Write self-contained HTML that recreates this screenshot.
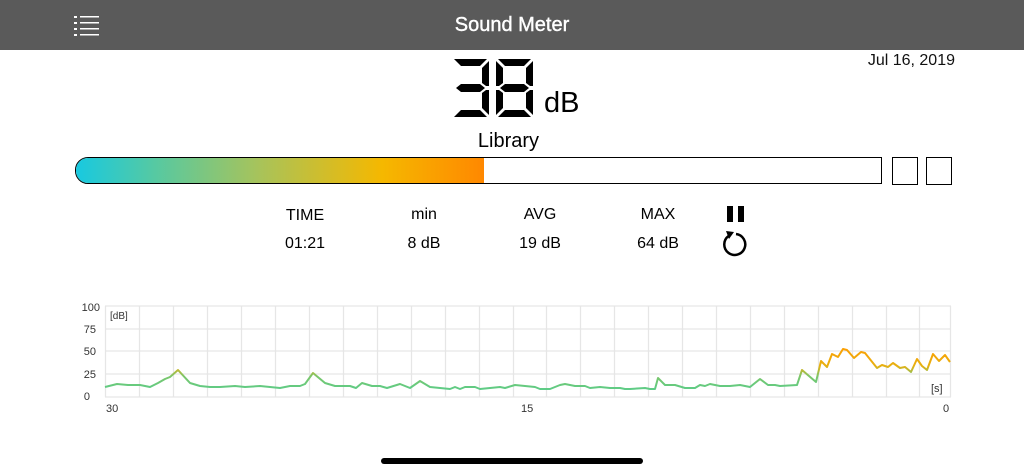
<!DOCTYPE html>
<html><head><meta charset="utf-8"><style>
body{margin:0;width:1024px;height:473px;background:#fff;font-family:"Liberation Sans",sans-serif;position:relative;overflow:hidden}
.a{position:absolute}
</style></head><body>
<div class="a" style="left:0;top:0;width:1024px;height:50px;background:#5a5a5a"></div>
<div class="a" style="left:0;top:14px;width:1024px;text-align:center;color:#fff;font-size:20px;-webkit-text-stroke:0.4px #fff">Sound Meter</div>
<svg class="a" style="left:72px;top:15px" width="30" height="22"><g fill="#fff"><rect x="2" y="1" width="3" height="2"/><rect x="8" y="1" width="19" height="1.5"/><rect x="2" y="7" width="3" height="2"/><rect x="8" y="7" width="19" height="1.5"/><rect x="2" y="13" width="3" height="2"/><rect x="8" y="13" width="19" height="1.5"/><rect x="2" y="19" width="3" height="2"/><rect x="8" y="19" width="19" height="1.5"/></g></svg>
<div class="a" style="right:69px;top:52px;font-size:16px;color:#111">Jul 16, 2019</div>
<svg class="a" style="left:452px;top:59px" width="90" height="62"><defs>
<polygon id="A" points="2,0 35,0 28,7 9,7"/><polygon id="G" points="4,29 9,25 28,25 33,29 28,33 9,33"/><polygon id="D" points="9,51 28,51 35,58 2,58"/>
<polygon id="F" points="0,2 7,9 7,24 3,27 0,27"/><polygon id="B" points="37,2 30,9 30,24 34,27 37,27"/>
<polygon id="E" points="0,31 3,31 7,34 7,49 0,56"/><polygon id="C" points="37,31 34,31 30,34 30,49 37,56"/></defs>
<g fill="#000"><use href="#A"/><use href="#G"/><use href="#D"/><use href="#B"/><use href="#C"/>
<g transform="translate(44,0)"><use href="#A"/><use href="#G"/><use href="#D"/><use href="#B"/><use href="#C"/><use href="#E"/><use href="#F"/></g></g></svg>
<div class="a" style="left:544px;top:87px;font-size:29px">dB</div>
<div class="a" style="left:0;width:1017px;top:130px;text-align:center;font-size:20px">Library</div>
<div class="a" style="left:75px;top:157px;width:805px;height:25px;border:1.5px solid #000;border-radius:13px 0 0 13px;overflow:hidden">
<div style="width:408px;height:100%;background:linear-gradient(90deg,#18c9e0 0%,#58c9a0 20%,#a8c35a 45%,#f5b800 75%,#ff8800 100%)"></div></div>
<div class="a" style="left:892px;top:157px;width:24px;height:26px;border:1.5px solid #000"></div>
<div class="a" style="left:926px;top:157px;width:24px;height:26px;border:1.5px solid #000"></div>
<div class="a" style="font-size:16px;top:207px;left:245px;width:120px;text-align:center">TIME</div>
<div class="a" style="font-size:16px;top:235px;left:245px;width:120px;text-align:center">01:21</div>
<div class="a" style="font-size:16px;top:206px;left:364px;width:120px;text-align:center">min</div>
<div class="a" style="font-size:16px;top:235px;left:364px;width:120px;text-align:center">8 dB</div>
<div class="a" style="font-size:16px;top:206px;left:480px;width:120px;text-align:center">AVG</div>
<div class="a" style="font-size:16px;top:235px;left:480px;width:120px;text-align:center">19 dB</div>
<div class="a" style="font-size:16px;top:206px;left:598px;width:120px;text-align:center">MAX</div>
<div class="a" style="font-size:16px;top:235px;left:598px;width:120px;text-align:center">64 dB</div>
<div class="a" style="left:727px;top:206px;width:6px;height:16px;background:#000"></div>
<div class="a" style="left:738px;top:206px;width:6px;height:16px;background:#000"></div>
<svg class="a" style="left:720px;top:228px" width="32" height="30"><path d="M9.5,7 A10.5,10.5 0 1 0 17,5" fill="none" stroke="#000" stroke-width="2.5" transform="translate(-1,1)"/><polygon points="6,3 14,4 9,11" fill="#000"/></svg>
<svg class="a" style="left:0;top:290px" width="1024" height="130">
<defs><linearGradient id="lg" gradientUnits="userSpaceOnUse" x1="0" y1="107" x2="0" y2="55"><stop offset="0" stop-color="#4ccf98"/><stop offset="0.4" stop-color="#7cc66a"/><stop offset="0.6" stop-color="#e8b010"/><stop offset="1" stop-color="#ff9c00"/></linearGradient></defs>
<g stroke="#e6e6e6" stroke-width="1.2" fill="none">
<path d="M105,16H951M105,39H951M105,61H951M105,84H951M105,107H951"/>
<path d="M105.5,16V107M139.5,16V107M173.5,16V107M207.5,16V107M241.5,16V107M275.5,16V107M309.5,16V107M343.5,16V107M377.5,16V107M411.5,16V107M445.5,16V107M479.5,16V107M513.5,16V107M546.5,16V107M580.5,16V107M614.5,16V107M648.5,16V107M682.5,16V107M716.5,16V107M750.5,16V107M784.5,16V107M818.5,16V107M852.5,16V107M886.5,16V107M919.5,16V107M950.5,16V107"/></g>
<g font-size="11" fill="#333" text-anchor="end"><text x="100" y="21">100</text><text x="96" y="43">75</text><text x="96" y="65">50</text><text x="96" y="88">25</text><text x="90" y="110">0</text></g>
<text x="110" y="29" font-size="10" fill="#333">[dB]</text><text x="931" y="102" font-size="11" fill="#333">[s]</text>
<g font-size="11" fill="#333"><text x="106" y="122">30</text><text x="521" y="122">15</text><text x="943" y="122">0</text></g>
<polyline fill="none" stroke="url(#lg)" stroke-width="2" stroke-linejoin="round" points="105,97 117,94 128,95 140,95 150,97 158,93 165,89 170,87 178,80 190,93 200,96 210,97 220,97 235,96 245,97 260,96 280,98 290,96 300,96 305,94 313,83 325,93 335,96 350,96 356,98 362,93 372,96 380,96 387,98 400,94 410,98 420,91 430,97 440,98 450,99 455,97 460,99 465,97 475,97 480,99 490,98 500,97 505,98 515,95 525,96 535,97 540,99 550,99 560,95 565,94 575,96 585,96 590,98 600,97 610,98 620,98 625,99 630,99 645,98 650,99 655,99 658,88 665,95 675,95 685,98 695,98 700,95 705,96 710,94 720,96 730,96 740,95 750,97 760,89 768,95 775,95 780,96 797,95 802,80 816,92 821,71 827,77 832,64 838,67 843,59 847,60 854,68 861,62 865,63 877,78 882,75 888,77 893,73 900,78 905,77 911,82 917,69 922,76 927,80 933,64 939,71 945,65 950,72"/>
</svg>
<div class="a" style="left:381px;top:458px;width:262px;height:6px;border-radius:3px;background:#000"></div>
</body></html>
